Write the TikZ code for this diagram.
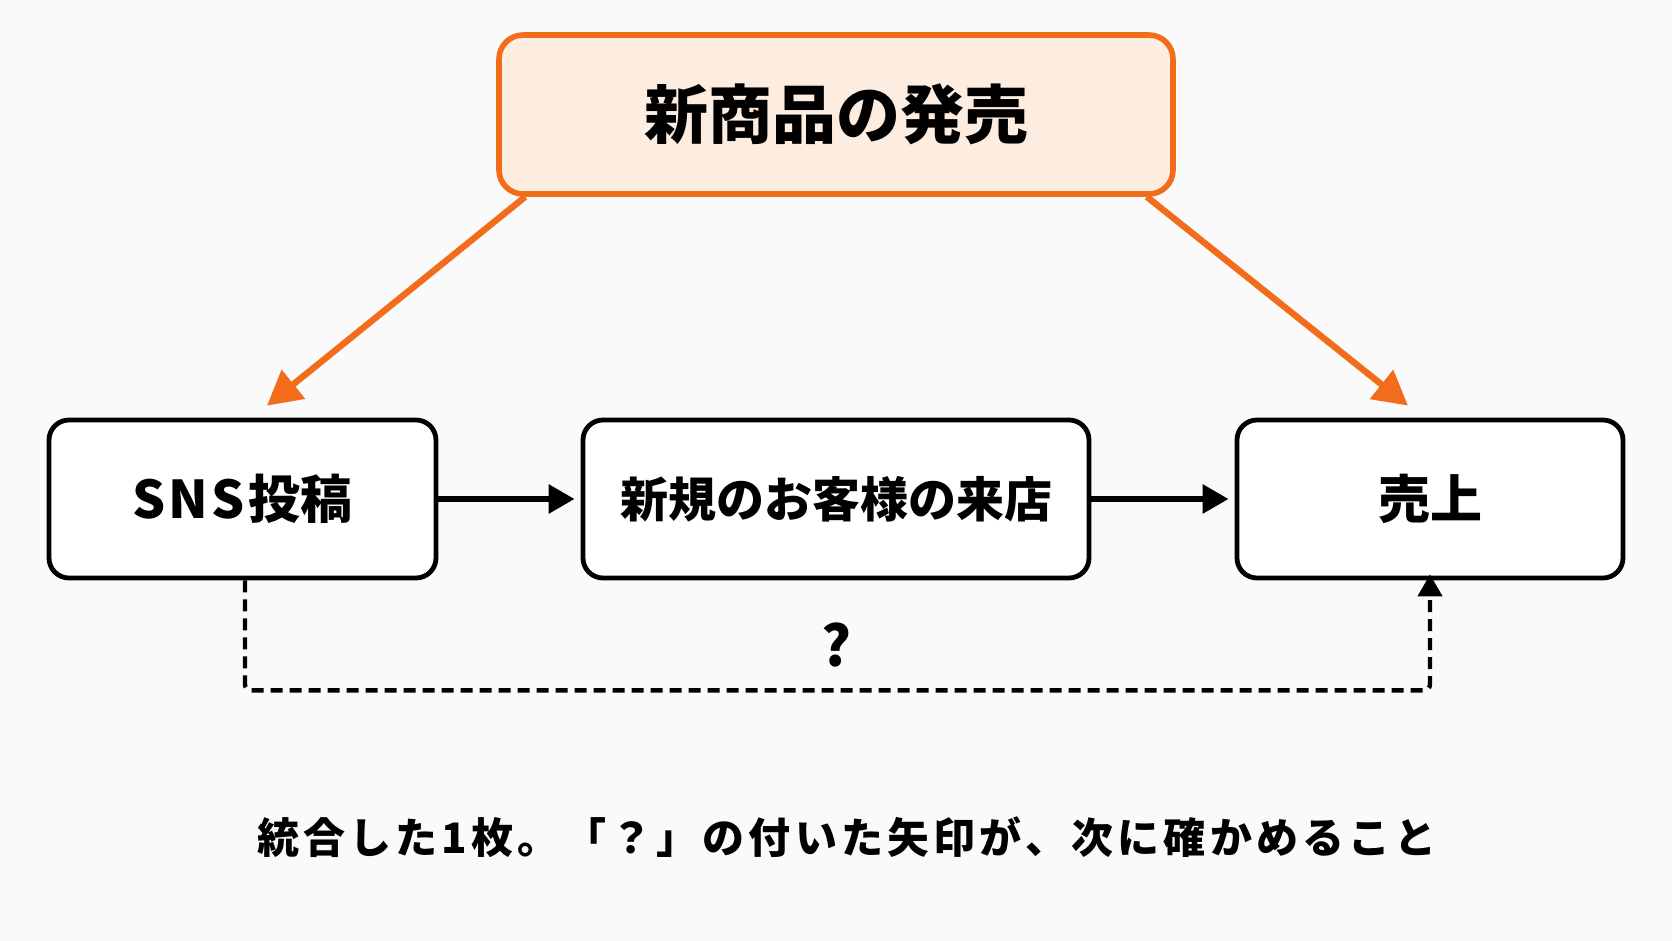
\documentclass[tikz,border=0pt]{standalone}
\usepackage{fontspec}
\setmainfont{Noto Sans CJK JP}
\usetikzlibrary{arrows.meta,calc}
\definecolor{org}{RGB}{243,108,28}
\definecolor{peach}{RGB}{253,236,224}
\definecolor{bg}{RGB}{250,250,250}
\tikzset{
  pbox/.style={draw=black,line width=2.4pt,rounded corners=10pt,fill=white,align=center,font=\bfseries\fontsize{26}{31}\selectfont,inner sep=0pt,minimum height=79pt},
  tbox/.style={draw=org,line width=2.8pt,rounded corners=12pt,fill=peach,font=\bfseries\fontsize{32}{38}\selectfont,inner sep=0pt,minimum width=337pt,minimum height=79.5pt},
  blk/.style={line width=3pt,-{Triangle[length=13pt,width=14pt]}},
  oarr/.style={draw=org,line width=3.2pt,-{Triangle[length=17pt,width=18pt]}},
  dsh/.style={line width=2.2pt,dash pattern=on 6pt off 3.5pt,rounded corners=3pt,-{Triangle[length=11pt,width=12pt]}}
}
\begin{document}
\begin{tikzpicture}[x=0.5pt,y=-0.5pt]
\fill[bg] (0,0) rectangle (1672,941);
\useasboundingbox (0,0) rectangle (1672,941);
\node[tbox] (top) at (836,114.5) {新商品の発売};
\node[pbox,minimum width=193.5pt] (sns) at (242.5,499) {{\addfontfeatures{LetterSpace=6}SNS}\kern2pt 投稿};
\node[pbox,minimum width=253pt,font=\bfseries\fontsize{24}{29}\selectfont] (mid) at (836,499) {新規のお客様の来店};
\node[pbox,minimum width=193pt] (rt) at (1430,499) {売上};
\draw[blk] (sns.east) -- ([xshift=-3pt]mid.west);
\draw[blk] (mid.east) -- ([xshift=-3pt]rt.west);
\draw[oarr] ($(top.south west)+(29,0)$) -- ($(sns.north)+(24.5,-12)$);
\draw[oarr] ($(top.south east)+(-29,0)$) -- ($(rt.north)+(-22,-12)$);
\coordinate (dl) at ($(sns.south)+(2.5,110)$);
\draw[dsh] (sns.south -| dl) -- (dl) -| ([yshift=3pt]rt.south);
\node[font=\bfseries\fontsize{28}{34}\selectfont] (q) at (836,645) {?};
\node[font=\bfseries\fontsize{21}{25}\selectfont\addfontfeatures{LetterSpace=10}] (cap) at (847,837) {統合した1枚。「？」の付いた矢印が、次に確かめること};
\end{tikzpicture}
\end{document}
